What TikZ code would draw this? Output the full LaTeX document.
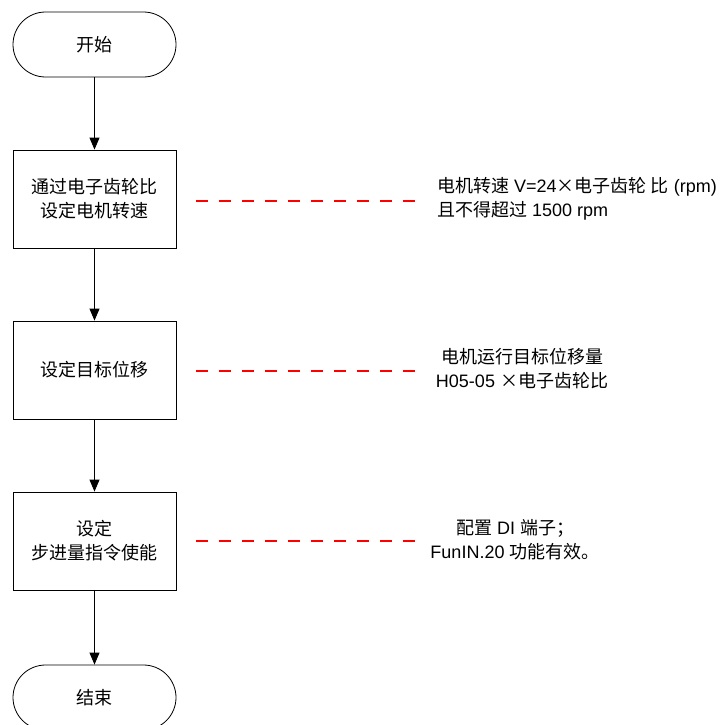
\documentclass[tikz,border=0pt]{standalone}
\usepackage{fontspec}
\setmainfont{Liberation Sans}
\newfontfamily\cjk{Noto Sans CJK SC}
\usetikzlibrary{arrows.meta}
\definecolor{notered}{RGB}{255,0,0}
\tikzset{
  txt/.style={font=\fontsize{18}{24}\selectfont, inner sep=0pt},
  term/.style={draw, line width=0.8pt, minimum width=163pt, minimum height=65pt, rounded corners=32.5pt, inner sep=0pt, txt, align=center},
  procbox/.style={draw, line width=0.8pt, minimum width=163pt, minimum height=98pt, inner sep=0pt, txt, align=center},
  flow/.style={line width=0.8pt, -{Triangle[length=12pt,width=10pt]}},
  note/.style={draw=notered, line width=1.3pt, dash pattern=on 12pt off 11pt},
}
\begin{document}
\begin{tikzpicture}[x=1pt,y=-1pt]
\useasboundingbox (0,0) rectangle (722,725);
\node[term] (start) at (94.5,44.5) {{\cjk 开始}};
\node[procbox] (b1) at (94.5,199) {{\cjk 通过电子齿轮比}\\{\cjk 设定电机转速}};
\node[procbox] (b2) at (94.5,370) {{\cjk 设定目标位移}};
\node[procbox] (b3) at (94.5,541) {{\cjk 设定}\\{\cjk 步进量指令使能}};
\node[term] (end) at (94.5,697.5) {{\cjk 结束}};
\draw[flow] (start) -- (b1);
\draw[flow] (b1) -- (b2);
\draw[flow] (b2) -- (b3);
\draw[flow] (b3) -- (end);
\node[txt, align=left, anchor=west] (n1) at (437,199) {{\cjk 电机转速} V=24{\cjk ×电子齿轮 比} (rpm)\\{\cjk 且不得超过} 1500 rpm};
\node[txt, align=center] (n2) at (522,369) {{\cjk 电机运行目标位移量}\\H05-05 {\cjk ×电子齿轮比}};
\node[txt, align=center] (n3) at (515,539.5) {{\cjk 配置} DI {\cjk 端子；}\\FunIN.20 {\cjk 功能有效。}};
\coordinate (d1s) at (196,201); \coordinate (d1e) at (418,201);
\coordinate (d2s) at (196,371); \coordinate (d2e) at (418,371);
\coordinate (d3s) at (196,541); \coordinate (d3e) at (418,541);
\draw[note] (d1s) -- (d1e);
\draw[note] (d2s) -- (d2e);
\draw[note] (d3s) -- (d3e);
\end{tikzpicture}
\end{document}
